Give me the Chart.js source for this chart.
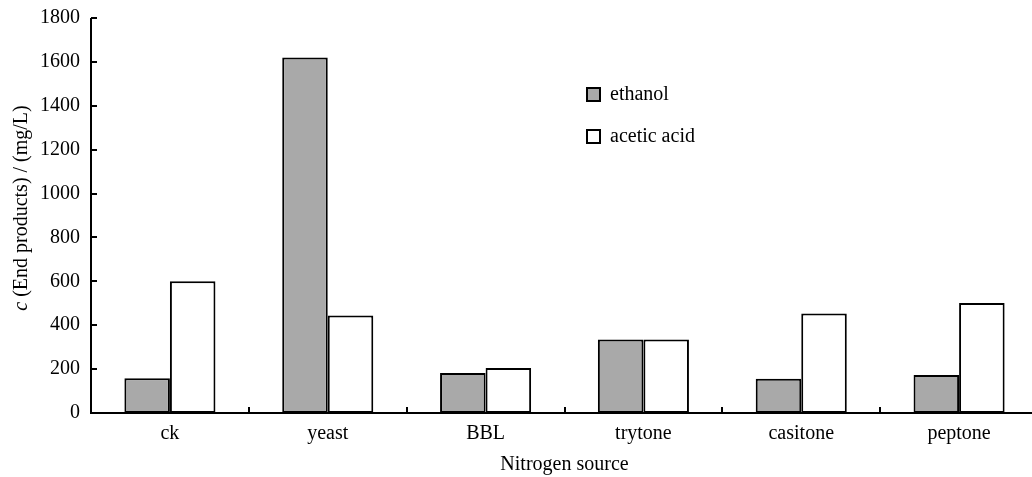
<!DOCTYPE html>
<html>
<head>
<meta charset="utf-8">
<script src="https://cdn.jsdelivr.net/npm/chart.js@4.4.0/dist/chart.umd.min.js"></script>
<style>
  html, body { margin: 0; padding: 0; background: #fff; overflow: hidden; width: 1032px; height: 477px; }
  #wrap { width: 1040px; height: 477px; }
</style>
</head>
<body>
<div id="wrap"><canvas id="c" width="1040" height="477"></canvas></div>
<script>
const categories = ['ck', 'yeast', 'BBL', 'trytone', 'casitone', 'peptone'];
const ethanol = [158, 1620, 182, 335, 156, 173];
const aceticAcid = [600, 444, 205, 335, 453, 501];
const yTicks = [0, 200, 400, 600, 800, 1000, 1200, 1400, 1600, 1800];
const seriesNames = ['ethanol', 'acetic acid'];
const xTitle = 'Nitrogen source';

const FONT = '"Liberation Serif", "Times New Roman", serif';
const FS = 20;
const GRAY = '#a9a9a9';

const decor = {
  id: 'decor',
  afterDraw(chart) {
    const ctx = chart.ctx;
    const a = chart.chartArea;
    const xs = chart.scales.x, ys = chart.scales.y;
    ctx.save();
    ctx.strokeStyle = '#000';
    ctx.lineWidth = 2;
    // axis lines
    ctx.beginPath();
    ctx.moveTo(a.left, a.top);
    ctx.lineTo(a.left, a.bottom);
    ctx.lineTo(a.right + 2, a.bottom);
    ctx.stroke();
    // y ticks inward
    yTicks.forEach(v => {
      const y = Math.round(ys.getPixelForValue(v));
      ctx.beginPath();
      ctx.moveTo(a.left, y);
      ctx.lineTo(a.left + 6, y);
      ctx.stroke();
    });
    // x ticks inward at category boundaries
    for (let i = 0; i < categories.length - 1; i++) {
      const x = Math.round((xs.getPixelForValue(i) + xs.getPixelForValue(i + 1)) / 2);
      ctx.beginPath();
      ctx.moveTo(x, a.bottom);
      ctx.lineTo(x, a.bottom - 6);
      ctx.stroke();
    }
    // legend
    const lx = 587, ly = [95, 137];
    const fills = [GRAY, '#ffffff'];
    ctx.font = FS + 'px ' + FONT;
    ctx.textBaseline = 'middle';
    ctx.textAlign = 'left';
    seriesNames.forEach((n, i) => {
      ctx.fillStyle = fills[i];
      ctx.fillRect(lx, ly[i] - 7, 13, 13);
      ctx.strokeStyle = '#000';
      ctx.lineWidth = 2;
      ctx.strokeRect(lx, ly[i] - 7, 13, 13);
      ctx.fillStyle = '#000';
      ctx.fillText(n, 610, ly[i]);
    });
    // x title
    ctx.textAlign = 'center';
    ctx.fillText(xTitle, (a.left + a.right) / 2, 465);
    // y title with italic c
    ctx.translate(22, 208);
    ctx.rotate(-Math.PI / 2);
    const italic = 'italic ' + FS + 'px ' + FONT;
    const normal = FS + 'px ' + FONT;
    ctx.font = italic;
    const w1 = ctx.measureText('c').width;
    ctx.font = normal;
    const rest = ' (End products) / (mg/L)';
    const w2 = ctx.measureText(rest).width;
    const start = -(w1 + w2) / 2;
    ctx.textAlign = 'left';
    ctx.font = italic;
    ctx.fillText('c', start, 0);
    ctx.font = normal;
    ctx.fillText(rest, start + w1, 0);
    ctx.restore();
  }
};

new Chart(document.getElementById('c'), {
  type: 'bar',
  data: {
    labels: categories,
    datasets: [
      { label: seriesNames[0], data: ethanol, backgroundColor: GRAY, borderColor: '#000', borderWidth: 2, borderSkipped: false },
      { label: seriesNames[1], data: aceticAcid, backgroundColor: '#ffffff', borderColor: '#000', borderWidth: 2, borderSkipped: false }
    ]
  },
  options: {
    responsive: false,
    animation: false,
    layout: { padding: { top: 18, right: 2, left: 0, bottom: 0 } },
    plugins: { legend: { display: false }, tooltip: { enabled: false } },
    datasets: { bar: { barPercentage: 1.0, categoryPercentage: 0.577 } },
    scales: {
      x: {
        grid: { display: false },
        border: { display: false },
        ticks: { color: '#000', font: { family: FONT, size: FS }, padding: 1, maxRotation: 0 },
        afterFit(s) { s.height = 64; }
      },
      y: {
        min: 0, max: 1800,
        grid: { display: false },
        border: { display: false },
        afterBuildTicks(s) { s.ticks = yTicks.map(v => ({ value: v })); },
        ticks: { color: '#000', font: { family: FONT, size: FS }, padding: 3, callback: v => String(v) },
        afterFit(s) { s.width = 91; }
      }
    }
  },
  plugins: [decor]
});
</script>
</body>
</html>
